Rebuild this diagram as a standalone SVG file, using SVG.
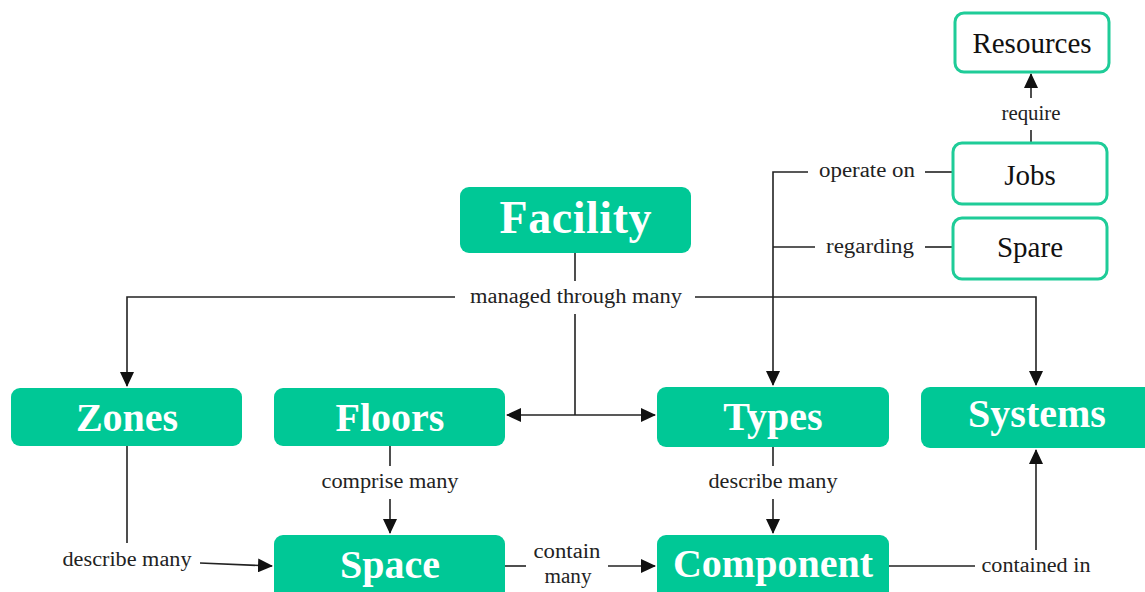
<svg xmlns="http://www.w3.org/2000/svg" width="1145" height="592" viewBox="0 0 1145 592">
  <defs>
    <marker id="arrow" viewBox="0 0 15 14" refX="14" refY="7" markerWidth="15" markerHeight="14" markerUnits="userSpaceOnUse" orient="auto-start-reverse">
      <path d="M0,0 L15,7 L0,14 z" fill="#111"/>
    </marker>
    <style>
      .solid { fill: #00c896; }
      .outline { fill: #ffffff; stroke: #1fcc98; stroke-width: 3; }
      .big { font-family: "Liberation Serif", "Times New Roman", serif; font-weight: bold; fill: #ffffff; text-anchor: middle; }
      .small { font-family: "Liberation Serif", "Times New Roman", serif; font-size: 29px; fill: #111; text-anchor: middle; }
      .lbl { font-family: "Liberation Serif", "Times New Roman", serif; font-size: 20.5px; fill: #222; text-anchor: middle; }
      .ln { fill: none; stroke: #222; stroke-width: 1.6; }
    </style>
  </defs>
  <rect width="1145" height="592" fill="#ffffff"/>

  <!-- connectors -->
  <g id="connectors">
    <!-- Facility: managed through many -->
    <line class="ln" x1="575" y1="253" x2="575" y2="281"/>
    <polyline class="ln" points="455,297 127,297 127,386" marker-end="url(#arrow)"/>
    <polyline class="ln" points="695,297 1036,297 1036,385" marker-end="url(#arrow)"/>
    <line class="ln" x1="575" y1="314" x2="575" y2="415"/>
    <line class="ln" x1="507" y1="415" x2="655" y2="415" marker-start="url(#arrow)" marker-end="url(#arrow)"/>

    <!-- Jobs / Spare to Types -->
    <line class="ln" x1="953" y1="172" x2="925" y2="172"/>
    <polyline class="ln" points="808,172 773,172 773,385" marker-end="url(#arrow)"/>
    <line class="ln" x1="953" y1="247" x2="925" y2="247"/>
    <line class="ln" x1="815" y1="247" x2="773" y2="247"/>

    <!-- Jobs require Resources -->
    <line class="ln" x1="1031" y1="142" x2="1031" y2="130"/>
    <line class="ln" x1="1031" y1="98" x2="1031" y2="74" marker-end="url(#arrow)"/>

    <!-- Floors comprise many Space -->
    <line class="ln" x1="390" y1="446" x2="390" y2="466"/>
    <line class="ln" x1="390" y1="499" x2="390" y2="533" marker-end="url(#arrow)"/>

    <!-- Zones describe many Space -->
    <line class="ln" x1="127" y1="446" x2="127" y2="543"/>
    <line class="ln" x1="200" y1="563" x2="272" y2="566" marker-end="url(#arrow)"/>

    <!-- Space contain many Component -->
    <line class="ln" x1="505" y1="566" x2="526" y2="566"/>
    <line class="ln" x1="608" y1="566" x2="655" y2="566" marker-end="url(#arrow)"/>

    <!-- Types describe many Component -->
    <line class="ln" x1="773" y1="447" x2="773" y2="466"/>
    <line class="ln" x1="773" y1="499" x2="773" y2="533" marker-end="url(#arrow)"/>

    <!-- Component contained in Systems -->
    <line class="ln" x1="889" y1="566" x2="975" y2="566"/>
    <line class="ln" x1="1036" y1="550" x2="1036" y2="450" marker-end="url(#arrow)"/>

    <text class="lbl" x="576" y="303" textLength="212" lengthAdjust="spacingAndGlyphs">managed through many</text>
    <text class="lbl" x="867" y="177" textLength="96" lengthAdjust="spacingAndGlyphs">operate on</text>
    <text class="lbl" x="870" y="253" textLength="88" lengthAdjust="spacingAndGlyphs">regarding</text>
    <text class="lbl" x="1031" y="120" textLength="59" lengthAdjust="spacingAndGlyphs">require</text>
    <text class="lbl" x="390" y="488" textLength="137" lengthAdjust="spacingAndGlyphs">comprise many</text>
    <text class="lbl" x="127" y="566" textLength="129" lengthAdjust="spacingAndGlyphs">describe many</text>
    <text class="lbl" x="567" y="558" textLength="67" lengthAdjust="spacingAndGlyphs">contain</text>
    <text class="lbl" x="568" y="583" textLength="47" lengthAdjust="spacingAndGlyphs">many</text>
    <text class="lbl" x="773" y="488" textLength="129" lengthAdjust="spacingAndGlyphs">describe many</text>
    <text class="lbl" x="1036" y="572" textLength="109" lengthAdjust="spacingAndGlyphs">contained in</text>
  </g>

  <!-- filled nodes -->
  <g id="facility">
    <rect class="solid" x="460" y="187" width="231" height="66" rx="9"/>
    <text class="big" x="575.5" y="233" font-size="46" textLength="152" lengthAdjust="spacing">Facility</text>
  </g>
  <g id="zones">
    <rect class="solid" x="11" y="388" width="231" height="58" rx="9"/>
    <text class="big" x="127" y="431" font-size="40">Zones</text>
  </g>
  <g id="floors">
    <rect class="solid" x="274" y="388" width="231" height="58" rx="9"/>
    <text class="big" x="390" y="431" font-size="40">Floors</text>
  </g>
  <g id="types">
    <rect class="solid" x="657" y="387" width="232" height="60" rx="9"/>
    <text class="big" x="773" y="430" font-size="40">Types</text>
  </g>
  <g id="systems">
    <rect class="solid" x="921" y="387" width="235" height="61" rx="9"/>
    <text class="big" x="1037" y="427" font-size="40">Systems</text>
  </g>
  <g id="space">
    <rect class="solid" x="274" y="535" width="231" height="66" rx="9"/>
    <text class="big" x="390" y="578" font-size="40">Space</text>
  </g>
  <g id="component">
    <rect class="solid" x="657" y="535" width="232" height="66" rx="9"/>
    <text class="big" x="773" y="577" font-size="40">Component</text>
  </g>

  <!-- outlined nodes -->
  <g id="resources">
    <rect class="outline" x="955" y="13" width="154" height="59" rx="9"/>
    <text class="small" x="1032" y="53">Resources</text>
  </g>
  <g id="jobs">
    <rect class="outline" x="953" y="143" width="154" height="61" rx="9"/>
    <text class="small" x="1030" y="185">Jobs</text>
  </g>
  <g id="spare">
    <rect class="outline" x="953" y="218" width="154" height="61" rx="9"/>
    <text class="small" x="1030" y="257">Spare</text>
  </g>
</svg>
